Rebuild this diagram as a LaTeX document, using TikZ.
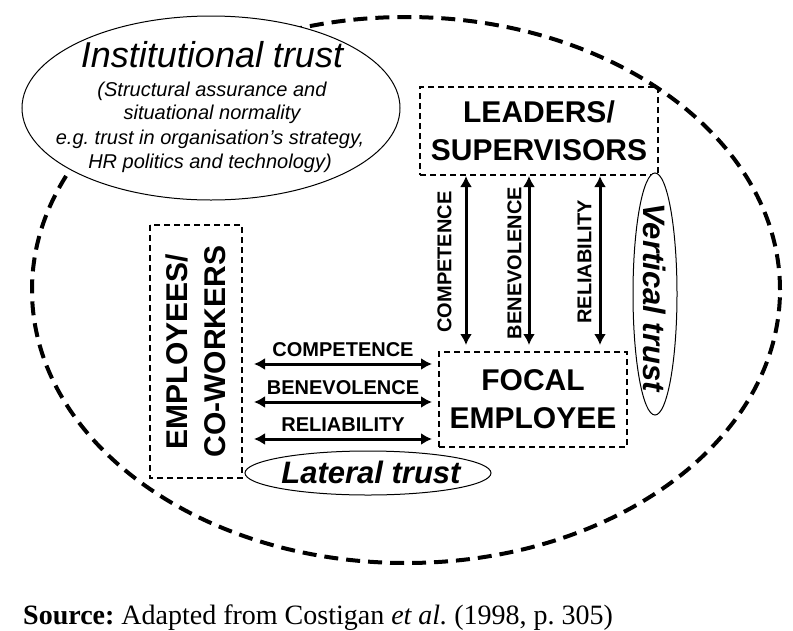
\documentclass[tikz,border=0pt]{standalone}
\usepackage{fontspec}
\setmainfont{Liberation Serif}
\newfontfamily\arialf{Liberation Sans}
\usetikzlibrary{arrows.meta,shapes.geometric}
\frenchspacing
\begin{document}
\begin{tikzpicture}[x=1pt,y=-1pt,
  boxnode/.style={draw, line width=2pt, dash pattern=on 6pt off 4pt, inner sep=0pt, align=center,
    font=\arialf\bfseries\fontsize{30}{38}\selectfont},
  dblarrow/.style={line width=3pt, {Latex[length=11pt,width=12pt]}-{Latex[length=11pt,width=12pt]}},
  lbl/.style={font=\arialf\bfseries\fontsize{20}{24}\selectfont, inner sep=0pt},
  trustlbl/.style={font=\arialf\bfseries\itshape\fontsize{31}{36}\selectfont, inner sep=0pt},
  insttxt/.style={font=\arialf\itshape\fontsize{20}{24}\selectfont, inner sep=0pt, anchor=base},
  thinell/.style={draw, line width=1pt, ellipse, inner sep=0pt, fill=white},
]
\useasboundingbox (0,0) rectangle (793,630);
% outer dashed ellipse
\node[draw, ellipse, inner sep=0pt, minimum width=748pt, minimum height=546pt,
      line width=4pt, dash pattern=on 14pt off 8pt] (outer) at (406,290) {};
% institutional trust
\node[thinell, minimum width=378pt, minimum height=184pt] (inst) at (211,108) {};
\node[font=\arialf\itshape\fontsize{36}{40}\selectfont, inner sep=0pt, anchor=base] (insttitle) at (212,67) {Institutional trust};
\node[insttxt] (inst1) at (212,96) {(Structural assurance and};
\node[insttxt] (inst2) at (212,119) {situational normality};
\node[insttxt] (inst3) at (210,144) {e.g. trust in organisation’s strategy,};
\node[insttxt] (inst4) at (210,168) {HR politics and technology)};
% boxes
\node[boxnode, minimum width=238pt, minimum height=88pt] (leaders) at (539,131) {LEADERS/\\SUPERVISORS};
\node[boxnode, minimum width=188pt, minimum height=95pt] (focal) at (533,399.5) {FOCAL\\EMPLOYEE};
\node[boxnode, rotate=90, minimum width=253pt, minimum height=92pt] (emp) at (196,351.5) {EMPLOYEES/\\CO-WORKERS};
% vertical arrows
\coordinate (vx1) at (466,0);
\coordinate (vx2) at (529,0);
\coordinate (vx3) at (600,0);
\draw[dblarrow, shorten >=6pt] (leaders.south -| vx1) -- (focal.north -| vx1);
\draw[dblarrow, shorten >=6pt] (leaders.south -| vx2) -- (focal.north -| vx2);
\draw[dblarrow, shorten >=6pt] (leaders.south -| vx3) -- (focal.north -| vx3);
\node[lbl, rotate=90] (vl1) at (444.5,262) {COMPETENCE};
\node[lbl, rotate=90] (vl2) at (514.5,263) {BENEVOLENCE};
\node[lbl, rotate=90] (vl3) at (584.5,262) {RELIABILITY};
% horizontal arrows
\coordinate (hy1) at (0,364);
\coordinate (hy2) at (0,402);
\coordinate (hy3) at (0,439);
\draw[dblarrow, shorten <=11pt, shorten >=6pt] (emp.south |- hy1) -- (focal.west |- hy1);
\draw[dblarrow, shorten <=11pt, shorten >=6pt] (emp.south |- hy2) -- (focal.west |- hy2);
\draw[dblarrow, shorten <=11pt, shorten >=6pt] (emp.south |- hy3) -- (focal.west |- hy3);
\node[lbl, anchor=base] (hl1) at (343,356) {COMPETENCE};
\node[lbl, anchor=base] (hl2) at (343,394) {BENEVOLENCE};
\node[lbl, anchor=base] (hl3) at (343,431) {RELIABILITY};
% vertical trust
\node[thinell, minimum width=44pt, minimum height=242pt] (vtell) at (655,294) {};
\node[trustlbl, rotate=-90] (vt) at (655,297.5) {Vertical trust};
% lateral trust
\node[thinell, minimum width=246pt, minimum height=44pt] (ltell) at (368,473) {};
\node[trustlbl, anchor=base] (lt) at (371,483) {Lateral trust};
% source
\node[anchor=base west, inner sep=0pt, font=\fontsize{28}{32}\selectfont] (src) at (23,624)
  {\textbf{Source:} Adapted from Costigan \textit{et al.} (1998, p. 305)};
\end{tikzpicture}
\end{document}
